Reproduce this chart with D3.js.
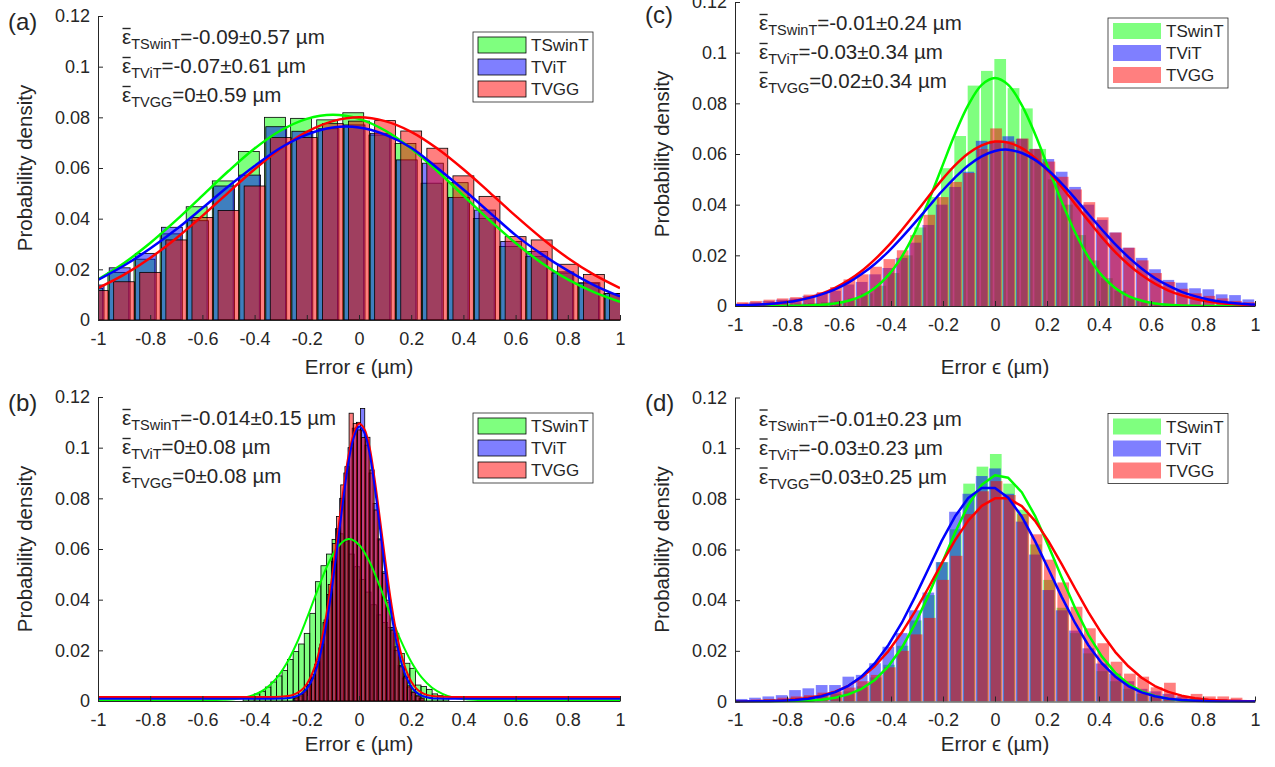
<!DOCTYPE html>
<html><head><meta charset="utf-8">
<script src="https://cdn.jsdelivr.net/npm/d3@7"></script>
<style>
body{margin:0;background:#fff}
svg text{font-family:"Liberation Sans",Arial,Helvetica,sans-serif;fill:#262626}
</style></head>
<body><svg id="chart" width="1275" height="767"></svg>
<script>
// ---------------- data ----------------
const seriesNames = ["TSwinT","TViT","TVGG"];
const xTickValues = [-1,-0.8,-0.6,-0.4,-0.2,0,0.2,0.4,0.6,0.8,1];
const xTickLabels = ["-1","-0.8","-0.6","-0.4","-0.2","0","0.2","0.4","0.6","0.8","1"];
const yTickValues = [0,0.02,0.04,0.06,0.08,0.1,0.12];
const yTickLabels = ["0","0.02","0.04","0.06","0.08","0.1","0.12"];

// panel (a): bar charts with 0.1 spacing
const aCenters = [-1,-0.9,-0.8,-0.7,-0.6,-0.5,-0.4,-0.3,-0.2,-0.1,0,0.1,0.2,0.3,0.4,0.5,0.6,0.7,0.8,0.9,1];
const aOffsets = [-0.022,-0.017,0];
const aBarWidth = 0.08;
const aTSwinT = [0.0125,0.0188,0.024,0.034,0.0447,0.0549,0.0665,0.080,0.0796,0.079,0.0818,0.073,0.0697,0.054,0.0542,0.0401,0.029,0.025,0.0185,0.0145,0.0105];
const aTViT   = [0.0138,0.0206,0.0263,0.0366,0.0392,0.0529,0.0572,0.0763,0.0745,0.0755,0.077,0.0737,0.0632,0.0619,0.0484,0.0434,0.031,0.027,0.019,0.0147,0.0105];
const aTVGG   = [0.0116,0.0151,0.0188,0.0316,0.0405,0.0432,0.0529,0.072,0.072,0.0775,0.0785,0.0787,0.0746,0.0678,0.0569,0.0488,0.0329,0.0316,0.022,0.018,0.0105];
const aFitTSwinT = [0.016,0.0225,0.0304,0.0394,0.0491,0.0588,0.0677,0.0748,0.0794,0.081,0.0794,0.0748,0.0677,0.0588,0.0491,0.0394,0.0304,0.0225,0.016,0.011,0.0072];
const aFitTViT   = [0.0158,0.0215,0.0282,0.0358,0.0442,0.0528,0.0608,0.068,0.0732,0.076,0.076,0.0732,0.068,0.060,0.0515,0.0425,0.0335,0.026,0.0195,0.0138,0.0093];
const aFitTVGG   = [0.0126,0.0179,0.0245,0.0323,0.0411,0.0504,0.0595,0.0677,0.0743,0.0785,0.08,0.0785,0.0743,0.0677,0.0595,0.0504,0.0411,0.0323,0.0245,0.0179,0.0126];
const aStats = ["-0.09±0.57","-0.07±0.61","0±0.59"];

// panel (b): fine histograms
const bStartTSwinT = -0.444, bStepTSwinT = 0.0213;
const bTSwinT = [0.0012,0.0018,0.0028,0.0037,0.0055,0.0075,0.0099,0.012,0.0164,0.0195,0.0225,0.0267,0.0346,0.0471,0.0534,0.058,0.0638,0.066,0.063,0.058,0.053,0.048,0.043,0.038,0.034,0.031,0.029,0.0267,0.0188,0.0149,0.0129,0.0063,0.0057,0.0046,0.0028,0.0021,0.001];
const bStartTViT = -0.25, bStepTViT = 0.016;
const bTViT = [0.001,0.002,0.0035,0.006,0.009,0.0145,0.021,0.031,0.042,0.055,0.068,0.080,0.090,0.100,0.1077,0.110,0.1155,0.101,0.090,0.078,0.064,0.051,0.039,0.029,0.020,0.014,0.009,0.0055,0.0035,0.002,0.001];
const bStartTVGG = -0.246, bStepTVGG = 0.016;
const bTVGG = [0.0015,0.0025,0.004,0.0065,0.0105,0.0155,0.0225,0.032,0.046,0.0622,0.0728,0.0853,0.0925,0.1136,0.1096,0.107,0.104,0.1041,0.0912,0.0754,0.0636,0.0504,0.0398,0.028,0.0214,0.0135,0.0095,0.006,0.0035,0.002,0.0012];
const bFitX = [-1,-0.5,-0.4,-0.3,-0.28,-0.26,-0.24,-0.22,-0.2,-0.18,-0.16,-0.14,-0.12,-0.1,-0.08,-0.06,-0.04,-0.02,0,0.02,0.04,0.06,0.08,0.1,0.12,0.14,0.16,0.18,0.2,0.22,0.24,0.26,0.28,0.3,0.4,0.5,1];
const bFitTVGG = [0.0016,0.0016,0.0016,0.0017,0.0019,0.0022,0.0030,0.0043,0.0067,0.0107,0.0167,0.0256,0.0372,0.0514,0.0672,0.0831,0.0970,0.1055,0.1095,0.1075,0.1005,0.0876,0.0721,0.0560,0.0411,0.0287,0.0192,0.0123,0.0077,0.0049,0.0033,0.0024,0.0020,0.0018,0.0016,0.0016,0.0016];
const bFitTViT = [0.0009,0.0009,0.0009,0.0010,0.0011,0.0013,0.0019,0.0029,0.0049,0.0083,0.0138,0.0221,0.0333,0.0473,0.0634,0.0798,0.0945,0.1040,0.1083,0.1060,0.0981,0.0845,0.0684,0.0519,0.0371,0.0250,0.0160,0.0097,0.0057,0.0034,0.0021,0.0015,0.0011,0.0010,0.0009,0.0009,0.0009];
const bFitGreenX = [-1,-0.6,-0.56,-0.52,-0.48,-0.44,-0.4,-0.36,-0.32,-0.28,-0.24,-0.2,-0.16,-0.12,-0.08,-0.04,0,0.04,0.08,0.12,0.16,0.2,0.24,0.28,0.32,0.36,0.4,0.44,0.48,1];
const bFitTSwinT = [0.0003,0.0003,0.0004,0.0005,0.0007,0.0013,0.0025,0.0047,0.0085,0.0144,0.0225,0.0326,0.0435,0.0537,0.0610,0.0639,0.0617,0.0550,0.0452,0.0342,0.0239,0.0155,0.0093,0.0052,0.0028,0.0014,0.0008,0.0005,0.0004,0.0003];
const bStats = ["-0.014±0.15","0±0.08","0±0.08"];

// panels (c) and (d): 39 bins across [-1, 1]
const cdStep = 2/39;
const cStartTSwinT = -0.98, cStartTViT = -1.0, cStartTVGG = -0.996;
const cTSwinT = [0.0005,0.0005,0.0008,0.001,0.001,0.0012,0.0015,0.002,0.003,0.005,0.008,0.013,0.02,0.031,0.043,0.0544,0.0671,0.087,0.0928,0.0975,0.086,0.078,0.062,0.05,0.04,0.028,0.018,0.011,0.006,0.003,0.0015,0.001,0.0008,0.0005,0.0005,0.0003,0.0003,0.0002,0.0002];
const cTViT = [0.001,0.0015,0.002,0.0025,0.003,0.004,0.005,0.006,0.0085,0.0095,0.0125,0.015,0.019,0.025,0.032,0.04,0.047,0.053,0.0652,0.0652,0.067,0.066,0.062,0.058,0.053,0.047,0.04,0.034,0.029,0.023,0.019,0.0145,0.0103,0.0092,0.007,0.0066,0.0046,0.0043,0.0026];
const cTVGG = [0.0015,0.002,0.0025,0.003,0.0035,0.0045,0.0055,0.0075,0.0105,0.0125,0.0155,0.0185,0.022,0.028,0.036,0.043,0.049,0.0525,0.062,0.0701,0.065,0.0661,0.062,0.057,0.051,0.046,0.041,0.035,0.029,0.023,0.018,0.013,0.0095,0.0068,0.005,0.004,0.003,0.002,0.0015];
const cdFitX = [-1,-0.974,-0.923,-0.872,-0.821,-0.769,-0.718,-0.667,-0.615,-0.564,-0.513,-0.462,-0.41,-0.359,-0.308,-0.256,-0.205,-0.154,-0.103,-0.051,0,0.051,0.103,0.154,0.205,0.256,0.308,0.359,0.41,0.462,0.513,0.564,0.615,0.667,0.718,0.769,0.821,0.872,0.923,0.974,1];
const cFitTSwinT = [0,0,0,0,0,0.0001,0.0002,0.00045,0.001,0.0021,0.0039,0.0071,0.0122,0.0194,0.0291,0.0413,0.0546,0.0679,0.0793,0.0873,0.09,0.0873,0.0793,0.0679,0.0546,0.0413,0.0291,0.0194,0.0122,0.0071,0.0039,0.0021,0.001,0.00045,0.0002,0.0001,0,0,0,0,0];
const cFitTViT = [0.0003,0.0003,0.0005,0.0008,0.0013,0.0020,0.0031,0.0046,0.0066,0.0092,0.0126,0.0166,0.0215,0.0270,0.0329,0.0391,0.0452,0.0507,0.0555,0.0591,0.0612,0.0617,0.0604,0.0577,0.0536,0.0484,0.0425,0.0363,0.0303,0.0244,0.0193,0.0148,0.0110,0.0080,0.0056,0.0039,0.0026,0.0017,0.0011,0.0007,0.0006];
const cFitTVGG = [0.0002,0.0003,0.0005,0.0008,0.0013,0.0021,0.0033,0.0049,0.0072,0.0101,0.0138,0.0184,0.0238,0.0299,0.0364,0.0432,0.0497,0.0555,0.0602,0.0634,0.0649,0.0645,0.0623,0.0584,0.0532,0.0471,0.0403,0.0337,0.0273,0.0214,0.0164,0.0122,0.0088,0.0061,0.0042,0.0028,0.0018,0.0011,0.0007,0.0004,0.0003];
const cStats = ["-0.01±0.24","-0.03±0.34","0.02±0.34"];

const dStartTSwinT = -0.997, dStartTViT = -1.0, dStartTVGG = -0.994;
const dTSwinT = [0.0005,0.0005,0.001,0.001,0.0015,0.002,0.0025,0.003,0.004,0.006,0.0095,0.0145,0.022,0.032,0.042,0.055,0.068,0.086,0.0927,0.0977,0.086,0.0757,0.062,0.048,0.037,0.027,0.019,0.012,0.008,0.005,0.003,0.002,0.0015,0.001,0.001,0.0008,0.0005,0.0005,0.0003];
const dTViT = [0.001,0.0015,0.002,0.0025,0.0045,0.0052,0.0065,0.0065,0.0098,0.0105,0.0151,0.0216,0.027,0.036,0.043,0.055,0.0749,0.082,0.089,0.092,0.082,0.071,0.058,0.044,0.036,0.028,0.021,0.015,0.011,0.008,0.005,0.004,0.003,0.002,0.0015,0.001,0.001,0.0008,0.0005];
const dTVGG = [0.0005,0.0008,0.001,0.0015,0.002,0.0025,0.0035,0.004,0.0055,0.008,0.0105,0.0135,0.02,0.0265,0.033,0.048,0.0575,0.074,0.083,0.087,0.0815,0.074,0.066,0.056,0.047,0.0374,0.0289,0.023,0.0157,0.011,0.0098,0.0056,0.0074,0.0022,0.003,0.002,0.002,0.0015,0.0005];
const dFitTSwinT = [0,0,0,0,0.0001,0.0002,0.0003,0.0007,0.0015,0.0028,0.0050,0.0085,0.0139,0.0211,0.0305,0.0419,0.0543,0.0666,0.0775,0.0856,0.0893,0.0883,0.0826,0.0733,0.0616,0.0491,0.0369,0.0264,0.0179,0.0114,0.0069,0.0040,0.0022,0.0011,0.0005,0.0003,0.0001,0,0,0,0];
const dFitTViT = [0,0,0.0001,0.0001,0.0003,0.0006,0.0011,0.0021,0.0037,0.0062,0.0099,0.0151,0.0223,0.0310,0.0412,0.0524,0.0634,0.0730,0.0803,0.0843,0.0843,0.0804,0.0730,0.0633,0.0524,0.0414,0.0310,0.0222,0.0152,0.0099,0.0061,0.0036,0.0021,0.0011,0.0006,0.0003,0.0001,0,0,0,0];
const dFitTVGG = [0,0,0.0001,0.0002,0.0004,0.0008,0.0014,0.0023,0.0039,0.0062,0.0095,0.0140,0.0199,0.0271,0.0355,0.0449,0.0545,0.0636,0.0714,0.0772,0.0802,0.0802,0.0771,0.0713,0.0634,0.0543,0.0446,0.0353,0.0269,0.0196,0.0139,0.0094,0.0061,0.0038,0.0023,0.0013,0.0007,0.0004,0.0002,0.0001,0];
const dStats = ["-0.01±0.23","-0.03±0.23","0.03±0.25"];

// ---------------- drawing ----------------
const colors = ["#00ff00","#0000ff","#ff0000"];
const svg = d3.select("#chart");
const defs = svg.append("defs");

function binned(values, start, step) {
  return values.map((v,i)=>({c:start+step*(i+0.5), v}));
}

function drawPanel(cfg) {
  const x = d3.scaleLinear().domain([-1,1]).range([cfg.x0,cfg.x1]);
  const y = d3.scaleLinear().domain([0,0.12]).range([cfg.yb,cfg.yt]);
  defs.append("clipPath").attr("id","cb"+cfg.id).append("rect")
    .attr("x",cfg.x0).attr("y",cfg.yt).attr("width",cfg.x1-cfg.x0).attr("height",cfg.yb-cfg.yt);
  defs.append("clipPath").attr("id","cl"+cfg.id).append("rect")
    .attr("x",cfg.x0).attr("y",cfg.yt-3).attr("width",cfg.x1-cfg.x0).attr("height",cfg.yb-cfg.yt+4);
  const g = svg.append("g");
  const barsG = g.append("g").attr("clip-path",`url(#cb${cfg.id})`);
  cfg.hists.forEach((h,s)=>{
    barsG.append("g").selectAll("rect").data(h.bars).join("rect")
      .attr("x",d=>x(d.c-h.width/2))
      .attr("width",d=>x(d.c+h.width/2)-x(d.c-h.width/2))
      .attr("y",d=>y(d.v))
      .attr("height",d=>y(0)-y(d.v))
      .attr("fill",colors[s]).attr("fill-opacity",0.5)
      .attr("stroke",cfg.edges?"#000":"none").attr("stroke-width",cfg.edges?0.8:0);
  });
  const linesG = g.append("g").attr("clip-path",`url(#cl${cfg.id})`);
  [0,2,1].forEach(s=>{
    const f = cfg.fits[s];
    const line = d3.line().x(d=>x(d[0])).y(d=>y(d[1])).curve(cfg.linear?d3.curveLinear:d3.curveCatmullRom);
    linesG.append("path").datum(f.x.map((xx,i)=>[xx,f.y[i]]))
      .attr("d",line).attr("fill","none").attr("stroke",colors[s])
      .attr("stroke-width",cfg.lw).attr("stroke-linejoin","round");
  });
  // axes
  const ax = g.append("g").attr("transform",`translate(0,${cfg.yb})`)
    .call(d3.axisBottom(x).tickValues(xTickValues).tickFormat((d,i)=>xTickLabels[i]).tickSizeInner(-5).tickSizeOuter(0).tickPadding(12));
  const ay = g.append("g").attr("transform",`translate(${cfg.x0},0)`)
    .call(d3.axisLeft(y).tickValues(yTickValues).tickFormat((d,i)=>yTickLabels[i]).tickSizeInner(-5).tickSizeOuter(0).tickPadding(8));
  [ax,ay].forEach(a=>{
    a.selectAll("path,line").attr("stroke","#262626");
    a.selectAll("text").attr("font-size",18).attr("fill","#262626").attr("font-family",'"Liberation Sans",Arial,sans-serif');
  });
  // axis titles
  g.append("text").attr("x",(cfg.x0+cfg.x1)/2).attr("y",cfg.titleY).attr("text-anchor","middle")
    .attr("font-size",20.5).text("Error ϵ (µm)");
  g.append("text").attr("transform",`translate(${cfg.x0-66},${(cfg.yb+cfg.yt)/2}) rotate(-90)`)
    .attr("text-anchor","middle").attr("font-size",20.5).text("Probability density");
  // panel label
  g.append("text").attr("x",cfg.x0-90).attr("y",cfg.labelY).attr("font-size",24).text(cfg.label);
  // stats text
  cfg.stats.forEach((st,i)=>{
    const bx = cfg.x0+24, by = cfg.yt+28+i*29;
    const t = g.append("text").attr("x",bx).attr("y",by).attr("font-size",20.5);
    t.append("tspan").text("ε");
    t.append("tspan").attr("font-size",14.5).attr("dy",5).text(seriesNames[i]);
    t.append("tspan").attr("dy",-5).text("="+st+" µm");
    const ew = t.node().getSubStringLength(0,1);
    g.append("line").attr("x1",bx+0.5).attr("x2",bx+ew-0.5).attr("y1",by-15.5).attr("y2",by-15.5)
      .attr("stroke","#262626").attr("stroke-width",1.4);
  });
  // legend
  const lx = cfg.x1-147, ly = cfg.yt+16;
  const lg = g.append("g");
  lg.append("rect").attr("x",lx).attr("y",ly).attr("width",120).attr("height",70)
    .attr("fill","#fff").attr("stroke","#262626").attr("stroke-width",0.8);
  seriesNames.forEach((n,i)=>{
    lg.append("rect").attr("x",lx+5).attr("y",ly+5+i*22).attr("width",48).attr("height",16)
      .attr("fill",colors[i]).attr("fill-opacity",0.5)
      .attr("stroke",cfg.edges?"#000":"none").attr("stroke-width",0.8);
    lg.append("text").attr("x",lx+58).attr("y",ly+19+i*22).attr("font-size",17).text(n);
  });
}

const aHists = [aTSwinT,aTViT,aTVGG].map((vals,s)=>({width:aBarWidth, bars:vals.map((v,i)=>({c:aCenters[i]+aOffsets[s], v}))}));
drawPanel({id:"a",label:"(a)",x0:98,x1:620,yb:320,yt:16,titleY:374,labelY:30,edges:true,lw:2.5,linear:false,stats:aStats,
  hists:aHists,
  fits:[{x:aCenters,y:aFitTSwinT},{x:aCenters,y:aFitTViT},{x:aCenters,y:aFitTVGG}]});

drawPanel({id:"b",label:"(b)",x0:98,x1:620,yb:701,yt:397,titleY:751,labelY:411,edges:true,lw:2,linear:false,stats:bStats,
  hists:[{width:bStepTSwinT,bars:binned(bTSwinT,bStartTSwinT,bStepTSwinT)},
         {width:bStepTViT,bars:binned(bTViT,bStartTViT,bStepTViT)},
         {width:bStepTVGG,bars:binned(bTVGG,bStartTVGG,bStepTVGG)}],
  fits:[{x:bFitGreenX,y:bFitTSwinT},{x:bFitX,y:bFitTViT},{x:bFitX,y:bFitTVGG}]});

const cdBarW = 0.045;
drawPanel({id:"c",label:"(c)",x0:735,x1:1255,yb:306,yt:2,titleY:374,labelY:23,edges:false,lw:2.5,linear:false,stats:cStats,
  hists:[{width:cdBarW,bars:binned(cTSwinT,cStartTSwinT,cdStep)},
         {width:cdBarW,bars:binned(cTViT,cStartTViT,cdStep)},
         {width:cdBarW,bars:binned(cTVGG,cStartTVGG,cdStep)}],
  fits:[{x:cdFitX,y:cFitTSwinT},{x:cdFitX,y:cFitTViT},{x:cdFitX,y:cFitTVGG}]});

drawPanel({id:"d",label:"(d)",x0:735,x1:1255,yb:701.5,yt:397.5,titleY:751,labelY:411,edges:false,lw:2.5,linear:true,stats:dStats,
  hists:[{width:cdBarW,bars:binned(dTSwinT,dStartTSwinT,cdStep)},
         {width:cdBarW,bars:binned(dTViT,dStartTViT,cdStep)},
         {width:cdBarW,bars:binned(dTVGG,dStartTVGG,cdStep)}],
  fits:[{x:cdFitX,y:dFitTSwinT},{x:cdFitX,y:dFitTViT},{x:cdFitX,y:dFitTVGG}]});
</script></body></html>
